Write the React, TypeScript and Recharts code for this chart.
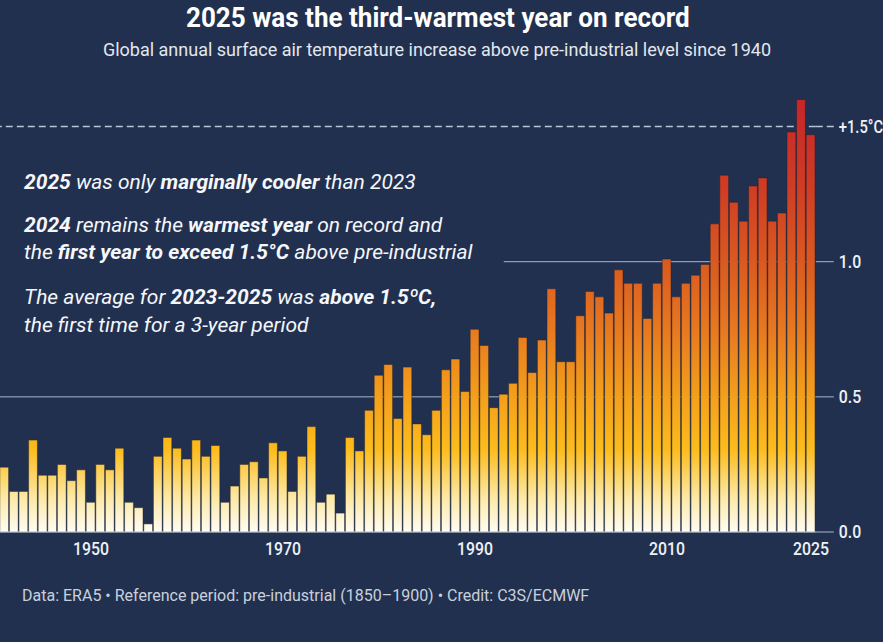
import React from 'react';
import { BarChart, Bar, XAxis, YAxis, ReferenceLine } from 'recharts';

// ---------------------------------------------------------------------------
// Data: global surface air temperature above pre-industrial (°C), ERA5
// ---------------------------------------------------------------------------

const YEARS = [
  1940, 1941, 1942, 1943, 1944, 1945, 1946, 1947, 1948, 1949,
  1950, 1951, 1952, 1953, 1954, 1955, 1956, 1957, 1958, 1959,
  1960, 1961, 1962, 1963, 1964, 1965, 1966, 1967, 1968, 1969,
  1970, 1971, 1972, 1973, 1974, 1975, 1976, 1977, 1978, 1979,
  1980, 1981, 1982, 1983, 1984, 1985, 1986, 1987, 1988, 1989,
  1990, 1991, 1992, 1993, 1994, 1995, 1996, 1997, 1998, 1999,
  2000, 2001, 2002, 2003, 2004, 2005, 2006, 2007, 2008, 2009,
  2010, 2011, 2012, 2013, 2014, 2015, 2016, 2017, 2018, 2019,
  2020, 2021, 2022, 2023, 2024, 2025,
];

const ANOMALY = [
  0.22, 0.24, 0.15, 0.15, 0.34, 0.21, 0.21, 0.25, 0.19, 0.23,
  0.11, 0.25, 0.23, 0.31, 0.11, 0.09, 0.03, 0.28, 0.35, 0.31,
  0.27, 0.34, 0.28, 0.32, 0.11, 0.17, 0.25, 0.26, 0.2, 0.33,
  0.3, 0.15, 0.28, 0.39, 0.11, 0.14, 0.07, 0.35, 0.3, 0.45,
  0.58, 0.62, 0.42, 0.61, 0.4, 0.36, 0.45, 0.6, 0.64, 0.52,
  0.75, 0.69, 0.46, 0.51, 0.55, 0.72, 0.59, 0.71, 0.9, 0.63,
  0.63, 0.8, 0.89, 0.87, 0.81, 0.97, 0.92, 0.92, 0.79, 0.92,
  1.01, 0.87, 0.92, 0.95, 0.99, 1.14, 1.32, 1.22, 1.15, 1.28,
  1.31, 1.15, 1.18, 1.48, 1.6, 1.47,
];

const LABEL_YEARS = [1950, 1970, 1990, 2010, 2025];
const Y_TICKS = [0, 0.5, 1, 1.5];
const LIMIT = 1.5;

const rows = YEARS.map((year, i) => ({ year, value: ANOMALY[i] }));

// ---------------------------------------------------------------------------
// Styling
// ---------------------------------------------------------------------------

const BG = '#22304f';
const GRID = '#aab6cb';
const DASH = '#b9c4d6';
const TEXT = '#eef1f6';
const FONT = 'Roboto, "Noto Sans", sans-serif';
const TICK_SIZE = 17;
const TICK_MARGIN = 5;

// plot area: bottom at y=532, 270 px per degree
const PLOT_BOTTOM = 532;
const PX_PER_DEG = 270.3;

function YTick({ x, y, payload }: any) {
  const v = payload.value;
  const isLimit = v === LIMIT;
  const x0 = x - TICK_MARGIN - TICK_SIZE;
  return (
    <g>
      <line
        x1={x0}
        x2={x - TICK_MARGIN + 1}
        y1={y}
        y2={y}
        stroke={isLimit ? DASH : GRID}
        strokeWidth={isLimit ? 1.6 : 1}
        strokeDasharray={isLimit ? '7 4' : undefined}
      />
      <text
        transform={`translate(${x + 1} ${y}) scale(${isLimit ? 0.82 : 0.88} 1)`}
        dy="0.36em"
        fill={TEXT}
        fontSize={18}
        fontFamily={FONT}
        fontWeight={500}
      >
        {isLimit ? '+1.5°C' : v.toFixed(1)}
      </text>
    </g>
  );
}

function XTick({ x, y, payload }: any) {
  if (!LABEL_YEARS.includes(payload.value)) return null;
  return (
    <text
      transform={`translate(${x} ${y + 23}) scale(0.88 1)`}
      textAnchor="middle"
      fill={TEXT}
      fontSize={18}
      fontFamily={FONT}
      fontWeight={500}
    >
      {payload.value}
    </text>
  );
}

const b: React.CSSProperties = { fontWeight: 700 };

const lineStyle: React.CSSProperties = {
  position: 'absolute',
  left: 24,
  fontFamily: FONT,
  fontStyle: 'italic',
  fontSize: 21,
  lineHeight: '21px',
  color: '#f5f7fb',
  whiteSpace: 'nowrap',
};

export default function App() {
  return (
    <div
      style={{
        position: 'relative',
        width: 883,
        height: 642,
        background: BG,
        overflow: 'hidden',
        fontFamily: FONT,
      }}
    >
      <style>{`body{margin:0;background:${BG}}`}</style>

      <BarChart
        width={883}
        height={642}
        data={rows}
        margin={{ top: PLOT_BOTTOM - 1.7 * PX_PER_DEG, right: 0, left: -9.8, bottom: 80 }}
        barSize={8.8}
      >
        <defs>
          <linearGradient
            id="warmGrad"
            gradientUnits="userSpaceOnUse"
            x1={0}
            x2={0}
            y1={PLOT_BOTTOM}
            y2={PLOT_BOTTOM - 1.6 * PX_PER_DEG}
          >
            <stop offset="0" stopColor="#fffdf4" />
            <stop offset="0.08" stopColor="#fde8a4" />
            <stop offset="0.19" stopColor="#fcbc1c" />
            <stop offset="0.31" stopColor="#f4a01b" />
            <stop offset="0.47" stopColor="#e7781f" />
            <stop offset="0.63" stopColor="#da5820" />
            <stop offset="0.8" stopColor="#cf3c24" />
            <stop offset="1" stopColor="#c6262a" />
          </linearGradient>
        </defs>

        <XAxis
          dataKey="year"
          height={30}
          interval={0}
          tickLine={false}
          tickSize={0}
          tickMargin={0}
          axisLine={{ stroke: '#e4e9f0', strokeWidth: 1 }}
          tick={<XTick />}
        />
        <YAxis
          orientation="right"
          width={67.2}
          domain={[0, 1.7]}
          ticks={Y_TICKS}
          interval={0}
          axisLine={false}
          tickLine={false}
          tickSize={TICK_SIZE}
          tickMargin={TICK_MARGIN}
          tick={<YTick />}
        />

        <ReferenceLine y={0.5} stroke={GRID} strokeWidth={1} zIndex={-10} />
        <ReferenceLine
          segment={[
            { x: 1993, y: 1 },
            { x: 2025, y: 1 },
          ]}
          stroke={GRID}
          strokeWidth={1}
          zIndex={-10}
        />
        <ReferenceLine
          y={LIMIT}
          stroke={DASH}
          strokeWidth={1.6}
          strokeDasharray="7 4"
          zIndex={-10}
        />

        <Bar
          dataKey="value"
          fill="url(#warmGrad)"
          stroke="#1c2233"
          strokeOpacity={0.6}
          strokeWidth={0.8}
          isAnimationActive={false}
        />
      </BarChart>

      {/* heading */}
      <div
        style={{
          position: 'absolute',
          left: 0,
          width: 876,
          top: 1,
          textAlign: 'center',
          color: '#ffffff',
          fontSize: 28,
          fontWeight: 700,
          lineHeight: '34px',
        }}
      >
        <span style={{ display: 'inline-block', transform: 'scaleX(0.93)' }}>
          2025 was the third-warmest year on record
        </span>
      </div>
      <div
        style={{
          position: 'absolute',
          left: 0,
          width: 874,
          top: 39,
          textAlign: 'center',
          color: '#e3e7ee',
          fontSize: 18,
          lineHeight: '22px',
          whiteSpace: 'nowrap',
        }}
      >
        Global annual surface air temperature increase above pre-industrial level since 1940
      </div>

      {/* key messages */}
      <div style={{ ...lineStyle, top: 172 }}>
        <span style={b}>2025</span> was only <span style={b}>marginally cooler</span> than 2023
      </div>
      <div style={{ ...lineStyle, top: 215 }}>
        <span style={b}>2024</span> remains the <span style={b}>warmest year</span> on record and
      </div>
      <div style={{ ...lineStyle, top: 242 }}>
        the <span style={b}>first year to exceed 1.5°C</span> above pre-industrial
      </div>
      <div style={{ ...lineStyle, top: 287 }}>
        The average for <span style={b}>2023-2025</span> was <span style={b}>above 1.5ºC,</span>
      </div>
      <div style={{ ...lineStyle, top: 315 }}>the first time for a 3-year period</div>

      {/* source line */}
      <div
        style={{
          position: 'absolute',
          left: 22,
          top: 586,
          color: '#c9d0dc',
          fontSize: 16,
          lineHeight: '20px',
          whiteSpace: 'nowrap',
        }}
      >
        Data: ERA5 • Reference period: pre-industrial (1850–1900) • Credit: C3S/ECMWF
      </div>
    </div>
  );
}
